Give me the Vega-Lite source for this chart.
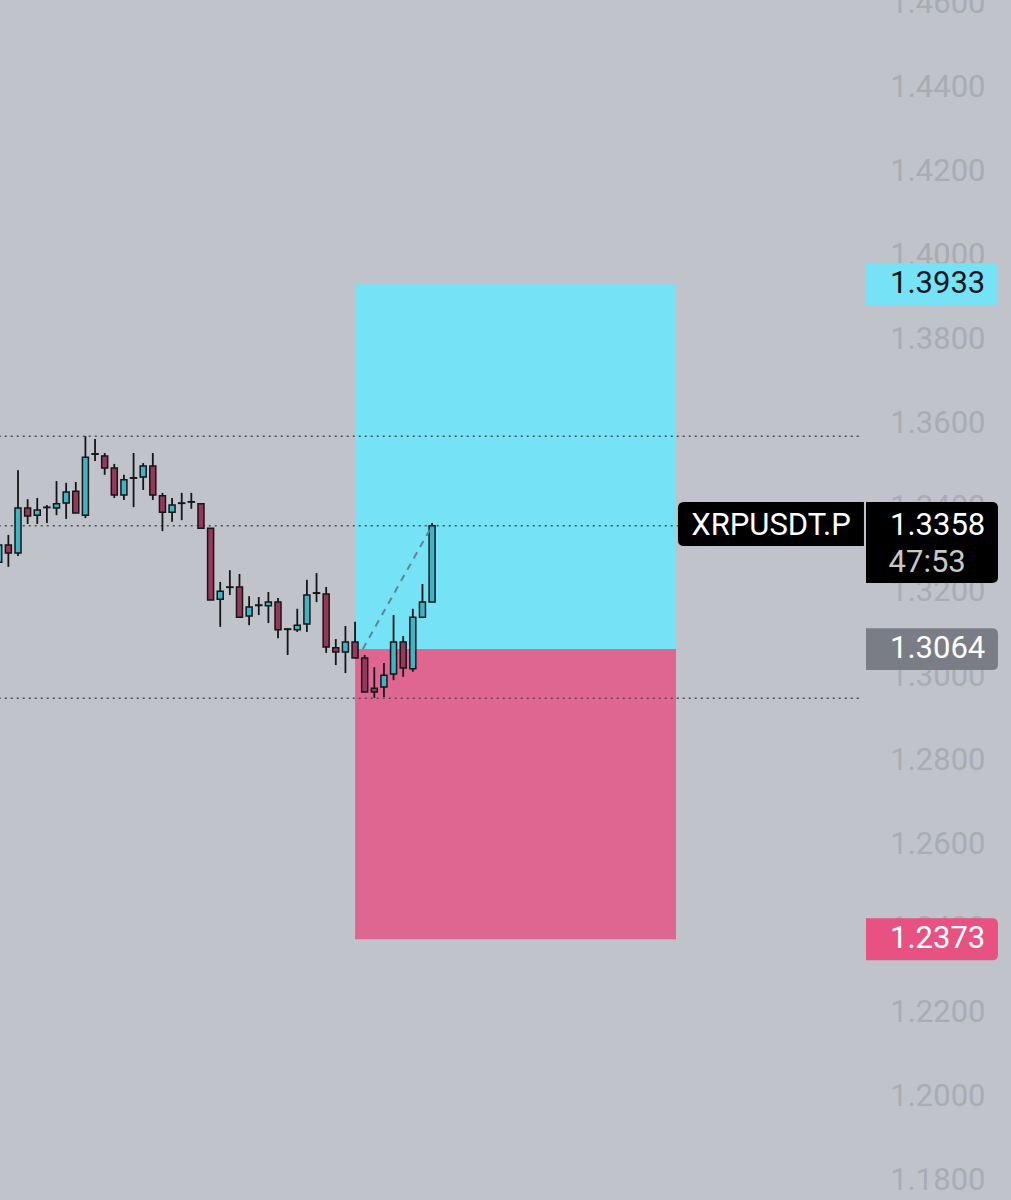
{
  "$schema": "https://vega.github.io/schema/vega-lite/v6.json",
  "width": 1011,
  "height": 1200,
  "autosize": {"type": "none"},
  "padding": 0,
  "background": "#c0c3ca",
  "config": {"view": {"stroke": null}, "font": "Roboto"},
  "datasets": {
    "zones": [
      {"zone": "target", "start": 37, "end": 70.33, "top": 1.3933, "bottom": 1.3064},
      {"zone": "stop", "start": 37, "end": 70.33, "top": 1.3064, "bottom": 1.2373}
    ],
    "levels": [
      {"price": 1.3571},
      {"price": 1.3358},
      {"price": 1.2947}
    ],
    "candles": [
      {"i": 0, "o": 1.3271, "h": 1.3324, "l": 1.3262, "c": 1.3312},
      {"i": 1, "o": 1.3312, "h": 1.3336, "l": 1.3260, "c": 1.3293},
      {"i": 2, "o": 1.3293, "h": 1.3490, "l": 1.3286, "c": 1.3400},
      {"i": 3, "o": 1.3400, "h": 1.3421, "l": 1.3362, "c": 1.3381},
      {"i": 4, "o": 1.3383, "h": 1.3424, "l": 1.3362, "c": 1.3395},
      {"i": 5, "o": 1.3402, "h": 1.3407, "l": 1.3364, "c": 1.3401},
      {"i": 6, "o": 1.3400, "h": 1.3464, "l": 1.3383, "c": 1.3410},
      {"i": 7, "o": 1.3412, "h": 1.3460, "l": 1.3374, "c": 1.3438},
      {"i": 8, "o": 1.3440, "h": 1.3462, "l": 1.3388, "c": 1.3388},
      {"i": 9, "o": 1.3383, "h": 1.3571, "l": 1.3376, "c": 1.3521},
      {"i": 10, "o": 1.3529, "h": 1.3564, "l": 1.3512, "c": 1.3528},
      {"i": 11, "o": 1.3524, "h": 1.3531, "l": 1.3479, "c": 1.3495},
      {"i": 12, "o": 1.3495, "h": 1.3505, "l": 1.3424, "c": 1.3431},
      {"i": 13, "o": 1.3431, "h": 1.3479, "l": 1.3419, "c": 1.3467},
      {"i": 14, "o": 1.3471, "h": 1.3531, "l": 1.3402, "c": 1.3472},
      {"i": 15, "o": 1.3474, "h": 1.3507, "l": 1.3443, "c": 1.3500},
      {"i": 16, "o": 1.3500, "h": 1.3531, "l": 1.3419, "c": 1.3431},
      {"i": 17, "o": 1.3429, "h": 1.3436, "l": 1.3345, "c": 1.3390},
      {"i": 18, "o": 1.3390, "h": 1.3424, "l": 1.3367, "c": 1.3407},
      {"i": 19, "o": 1.3412, "h": 1.3436, "l": 1.3371, "c": 1.3411},
      {"i": 20, "o": 1.3414, "h": 1.3436, "l": 1.3398, "c": 1.3415},
      {"i": 21, "o": 1.3410, "h": 1.3410, "l": 1.3350, "c": 1.3352},
      {"i": 22, "o": 1.3352, "h": 1.3352, "l": 1.3181, "c": 1.3181},
      {"i": 23, "o": 1.3183, "h": 1.3224, "l": 1.3117, "c": 1.3202},
      {"i": 24, "o": 1.3212, "h": 1.3252, "l": 1.3193, "c": 1.3211},
      {"i": 25, "o": 1.3212, "h": 1.3243, "l": 1.3140, "c": 1.3140},
      {"i": 26, "o": 1.3143, "h": 1.3190, "l": 1.3121, "c": 1.3164},
      {"i": 27, "o": 1.3169, "h": 1.3188, "l": 1.3145, "c": 1.3168},
      {"i": 28, "o": 1.3167, "h": 1.3200, "l": 1.3126, "c": 1.3176},
      {"i": 29, "o": 1.3176, "h": 1.3186, "l": 1.3090, "c": 1.3110},
      {"i": 30, "o": 1.3112, "h": 1.3114, "l": 1.3050, "c": 1.3111},
      {"i": 31, "o": 1.3110, "h": 1.3160, "l": 1.3105, "c": 1.3121},
      {"i": 32, "o": 1.3124, "h": 1.3229, "l": 1.3105, "c": 1.3193},
      {"i": 33, "o": 1.3198, "h": 1.3245, "l": 1.3176, "c": 1.3197},
      {"i": 34, "o": 1.3195, "h": 1.3212, "l": 1.3055, "c": 1.3069},
      {"i": 35, "o": 1.3067, "h": 1.3088, "l": 1.3026, "c": 1.3057},
      {"i": 36, "o": 1.3057, "h": 1.3119, "l": 1.3007, "c": 1.3081},
      {"i": 37, "o": 1.3081, "h": 1.3129, "l": 1.3043, "c": 1.3043},
      {"i": 38, "o": 1.3043, "h": 1.3050, "l": 1.2962, "c": 1.2962},
      {"i": 39, "o": 1.2971, "h": 1.3021, "l": 1.2948, "c": 1.2962},
      {"i": 40, "o": 1.2974, "h": 1.3031, "l": 1.2950, "c": 1.3002},
      {"i": 41, "o": 1.3005, "h": 1.3145, "l": 1.2990, "c": 1.3081},
      {"i": 42, "o": 1.3081, "h": 1.3095, "l": 1.2998, "c": 1.3019},
      {"i": 43, "o": 1.3017, "h": 1.3160, "l": 1.3010, "c": 1.3140},
      {"i": 44, "o": 1.3140, "h": 1.3219, "l": 1.3138, "c": 1.3176},
      {"i": 45, "o": 1.3176, "h": 1.3364, "l": 1.3176, "c": 1.3358}
    ],
    "path": [
      {"i": 37.8, "p": 1.3064},
      {"i": 45, "p": 1.3358}
    ],
    "tags": [
      {"label": "1.3933", "price": 1.3933, "kind": "target"},
      {"label": "1.3358", "price": 1.3358, "kind": "last"},
      {"label": "1.3064", "price": 1.3064, "kind": "entry"},
      {"label": "1.2373", "price": 1.2373, "kind": "stop"}
    ],
    "symbol": [
      {"symbol": "XRPUSDT.P", "countdown": "47:53", "price": 1.3358}
    ]
  },
  "layer": [
    {
      "data": {"name": "zones"},
      "mark": {"type": "rect"},
      "encoding": {
        "x": {"field": "start", "type": "quantitative", "scale": {"domain": [0.1308, 105.116], "nice": false, "zero": false, "padding": 0}, "axis": null},
        "x2": {"field": "end"},
        "y": {
          "field": "top", "type": "quantitative",
          "scale": {"domain": [1.17524, 1.46095], "nice": false, "zero": false, "padding": 0},
          "axis": {
            "orient": "right", "offset": -26, "labelAlign": "right", "labelBaseline": "middle",
            "labelFontSize": 31, "labelFont": "Roboto", "labelColor": "#a9acb3", "labelPadding": 0,
            "ticks": false, "domain": false, "grid": false, "title": null,
            "values": [1.18, 1.2, 1.22, 1.24, 1.26, 1.28, 1.3, 1.32, 1.34, 1.36, 1.38, 1.4, 1.42, 1.44, 1.46],
            "format": ".4f", "labelOverlap": false, "labelBound": false
          }
        },
        "y2": {"field": "bottom"},
        "color": {"condition": {"test": "datum.zone === 'target'", "value": "#75e3f5"}, "value": "#e06692"}
      }
    },
    {
      "data": {"name": "levels"},
      "mark": {"type": "rule", "strokeDash": [2, 4], "strokeWidth": 1.5, "color": "#4d4f55"},
      "encoding": {
        "y": {"field": "price", "type": "quantitative"},
        "x": {"datum": 0, "type": "quantitative"},
        "x2": {"datum": 89.64}
      }
    },
    {
      "data": {"name": "candles"},
      "mark": {"type": "rule", "color": "#151515", "strokeWidth": 1.8},
      "encoding": {
        "x": {"field": "i", "type": "quantitative"},
        "y": {"field": "l", "type": "quantitative"},
        "y2": {"field": "h"}
      }
    },
    {
      "data": {"name": "candles"},
      "mark": {"type": "bar", "size": 6, "stroke": "#151515", "strokeWidth": 1.5},
      "encoding": {
        "x": {"field": "i", "type": "quantitative"},
        "y": {"field": "o", "type": "quantitative"},
        "y2": {"field": "c"},
        "color": {"condition": {"test": "datum.c >= datum.o", "value": "#3fb4c6"}, "value": "#98375c"}
      }
    },
    {
      "data": {"name": "path"},
      "mark": {"type": "line", "strokeDash": [7, 6], "strokeWidth": 2, "color": "#5f8593"},
      "encoding": {
        "x": {"field": "i", "type": "quantitative"},
        "y": {"field": "p", "type": "quantitative"}
      }
    },
    {
      "data": {"name": "tags"},
      "transform": [{"filter": "datum.kind !== 'last'"}],
      "mark": {"type": "point", "filled": true, "opacity": 1, "size": 17424, "strokeWidth": 0,
        "shape": "M-1,-0.318 L0.91,-0.318 Q1,-0.318 1,-0.228 L1,0.228 Q1,0.318 0.91,0.318 L-1,0.318 Z"},
      "encoding": {
        "x": {"datum": 96.912, "type": "quantitative"},
        "y": {"field": "price", "type": "quantitative"},
        "color": {"condition": [
          {"test": "datum.kind === 'target'", "value": "#75e3f5"},
          {"test": "datum.kind === 'entry'", "value": "#7b7d86"}
        ], "value": "#e85283"}
      }
    },
    {
      "data": {"name": "tags"},
      "transform": [{"filter": "datum.kind === 'last'"}],
      "mark": {"type": "point", "filled": true, "opacity": 1, "size": 17424, "strokeWidth": 0, "color": "#000000",
        "shape": "M-1,-0.358 L0.91,-0.358 Q1,-0.358 1,-0.268 L1,0.78 Q1,0.87 0.91,0.87 L-1,0.87 Z"},
      "encoding": {
        "x": {"datum": 96.912, "type": "quantitative"},
        "y": {"field": "price", "type": "quantitative"}
      }
    },
    {
      "data": {"name": "symbol"},
      "mark": {"type": "point", "filled": true, "opacity": 1, "size": 34596, "strokeWidth": 0, "color": "#000000",
        "shape": "M-0.935,-0.254 L1,-0.254 L1,0.219 L-0.935,0.219 Q-1,0.219 -1,0.154 L-1,-0.189 Q-1,-0.254 -0.935,-0.254 Z"},
      "encoding": {
        "x": {"datum": 80.19, "type": "quantitative"},
        "y": {"field": "price", "type": "quantitative"}
      }
    },
    {
      "data": {"name": "tags"},
      "mark": {"type": "text", "align": "left", "baseline": "middle", "fontSize": 31, "font": "Roboto"},
      "encoding": {
        "x": {"datum": 92.55, "type": "quantitative"},
        "y": {"field": "price", "type": "quantitative"},
        "text": {"field": "label"},
        "color": {"condition": {"test": "datum.kind === 'target'", "value": "#131722"}, "value": "#ffffff"}
      }
    },
    {
      "data": {"name": "symbol"},
      "mark": {"type": "text", "align": "left", "baseline": "middle", "fontSize": 31, "font": "Roboto", "dy": 37, "color": "#c8c8c8"},
      "encoding": {
        "x": {"datum": 92.4, "type": "quantitative"},
        "y": {"field": "price", "type": "quantitative"},
        "text": {"field": "countdown"}
      }
    },
    {
      "data": {"name": "symbol"},
      "mark": {"type": "text", "align": "center", "baseline": "middle", "fontSize": 31, "font": "Roboto", "color": "#ffffff"},
      "encoding": {
        "x": {"datum": 80.19, "type": "quantitative"},
        "y": {"field": "price", "type": "quantitative"},
        "text": {"field": "symbol"}
      }
    }
  ]
}
